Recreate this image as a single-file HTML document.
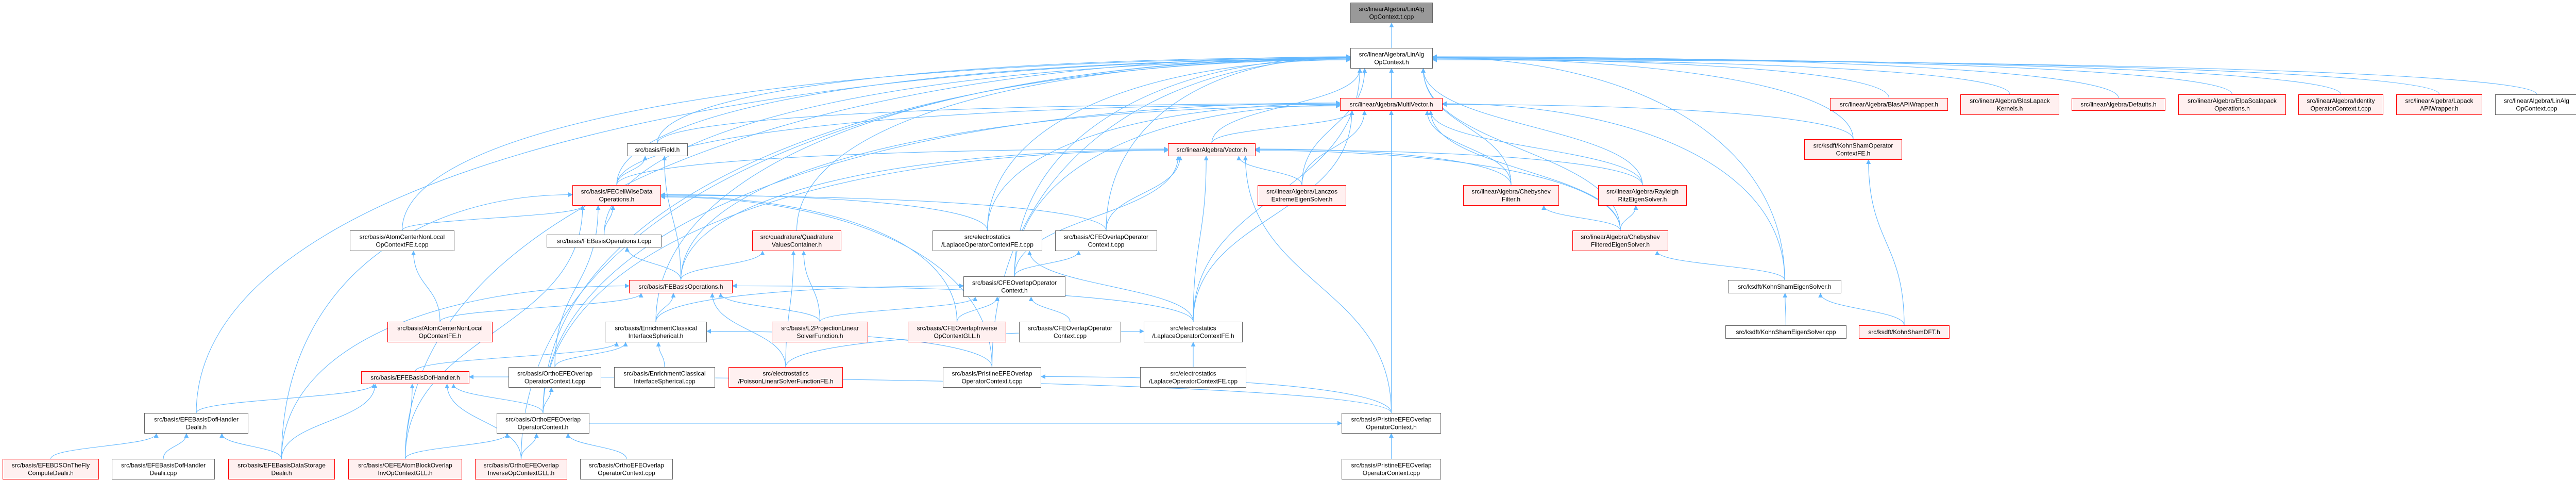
<!DOCTYPE html>
<html><head><meta charset="utf-8">
<style>
html,body{margin:0;padding:0;background:#fff;}
svg{display:block;}
text{font-family:"Liberation Sans",Helvetica,Arial,sans-serif;font-size:12px;fill:#000;}
</style></head>
<body>
<svg id="g" xmlns="http://www.w3.org/2000/svg" width="5008" height="931" viewBox="0 0 5008 931">
<defs>
<marker id="ah" viewBox="0 0 10 10" refX="9" refY="5" markerWidth="9" markerHeight="9" markerUnits="userSpaceOnUse" orient="auto">
<path d="M0,0 L10,5 L0,10 z" fill="#63b8ff"/>
</marker>
</defs>
<g id="edges" fill="none" stroke="#63b8ff" stroke-width="1.1"></g>
<g id="nodes"></g>
</svg>
<script>
var N={
top:[2621,5,2781,45,2,["src/linearAlgebra/LinAlg","OpContext.t.cpp"]],
lao:[2621,93,2781,133,0,["src/linearAlgebra/LinAlg","OpContext.h"]],
mv:[2601,190,2800,215,1,["src/linearAlgebra/MultiVector.h"]],
blasapi:[3552,190,3781,215,1,["src/linearAlgebra/BlasAPIWrapper.h"]],
blk:[3805,183,3997,223,1,["src/linearAlgebra/BlasLapack","Kernels.h"]],
def:[4021,190,4203,215,1,["src/linearAlgebra/Defaults.h"]],
elpa:[4228,183,4437,223,1,["src/linearAlgebra/ElpaScalapack","Operations.h"]],
ident:[4461,183,4626,223,1,["src/linearAlgebra/Identity","OperatorContext.t.cpp"]],
lapack:[4651,183,4818,223,1,["src/linearAlgebra/Lapack","APIWrapper.h"]],
laocpp:[4843,183,5004,223,0,["src/linearAlgebra/LinAlg","OpContext.cpp"]],
field:[1217,278,1335,303,0,["src/basis/Field.h"]],
vec:[2267,278,2437,303,1,["src/linearAlgebra/Vector.h"]],
ksop:[3502,270,3692,310,1,["src/ksdft/KohnShamOperator","ContextFE.h"]],
fecw:[1111,359,1283,399,1,["src/basis/FECellWiseData","Operations.h"]],
lan:[2441,359,2613,399,1,["src/linearAlgebra/Lanczos","ExtremeEigenSolver.h"]],
chf:[2840,359,3026,399,1,["src/linearAlgebra/Chebyshev","Filter.h"]],
rr:[3102,359,3274,399,1,["src/linearAlgebra/Rayleigh","RitzEigenSolver.h"]],
acnt:[679,447,882,487,0,["src/basis/AtomCenterNonLocal","OpContextFE.t.cpp"]],
febt:[1061,455,1284,480,0,["src/basis/FEBasisOperations.t.cpp"]],
qvc:[1460,447,1633,487,1,["src/quadrature/Quadrature","ValuesContainer.h"]],
lapt:[1810,447,2023,487,0,["src/electrostatics","/LaplaceOperatorContextFE.t.cpp"]],
cfet:[2048,447,2246,487,0,["src/basis/CFEOverlapOperator","Context.t.cpp"]],
chfe:[3052,447,3238,487,1,["src/linearAlgebra/Chebyshev","FilteredEigenSolver.h"]],
feb:[1221,543,1422,569,1,["src/basis/FEBasisOperations.h"]],
cfeh:[1870,536,2068,576,0,["src/basis/CFEOverlapOperator","Context.h"]],
kse:[3354,543,3574,569,0,["src/ksdft/KohnShamEigenSolver.h"]],
acnh:[752,624,956,664,1,["src/basis/AtomCenterNonLocal","OpContextFE.h"]],
ecs:[1174,624,1372,664,0,["src/basis/EnrichmentClassical","InterfaceSpherical.h"]],
l2p:[1498,624,1685,664,1,["src/basis/L2ProjectionLinear","SolverFunction.h"]],
cfeinv:[1762,624,1953,664,1,["src/basis/CFEOverlapInverse","OpContextGLL.h"]],
cfecpp:[1978,624,2176,664,0,["src/basis/CFEOverlapOperator","Context.cpp"]],
laph:[2220,624,2412,664,0,["src/electrostatics","/LaplaceOperatorContextFE.h"]],
ksecpp:[3349,631,3584,657,0,["src/ksdft/KohnShamEigenSolver.cpp"]],
ksdft:[3608,631,3784,657,1,["src/ksdft/KohnShamDFT.h"]],
efed:[701,720,911,745,1,["src/basis/EFEBasisDofHandler.h"]],
oet:[987,712,1167,752,0,["src/basis/OrthoEFEOverlap","OperatorContext.t.cpp"]],
ecscpp:[1192,712,1388,752,0,["src/basis/EnrichmentClassical","InterfaceSpherical.cpp"]],
poi:[1414,712,1636,752,1,["src/electrostatics","/PoissonLinearSolverFunctionFE.h"]],
pet:[1830,712,2021,752,0,["src/basis/PristineEFEOverlap","OperatorContext.t.cpp"]],
lapcpp:[2213,712,2419,752,0,["src/electrostatics","/LaplaceOperatorContextFE.cpp"]],
efedd:[280,801,482,841,0,["src/basis/EFEBasisDofHandler","Dealii.h"]],
oeh:[964,801,1144,841,0,["src/basis/OrthoEFEOverlap","OperatorContext.h"]],
peh:[2604,801,2797,841,0,["src/basis/PristineEFEOverlap","OperatorContext.h"]],
b1:[5,890,192,930,1,["src/basis/EFEBDSOnTheFly","ComputeDealii.h"]],
b2:[217,890,417,930,0,["src/basis/EFEBasisDofHandler","Dealii.cpp"]],
b3:[443,890,650,930,1,["src/basis/EFEBasisDataStorage","Dealii.h"]],
b4:[676,890,897,930,1,["src/basis/OEFEAtomBlockOverlap","InvOpContextGLL.h"]],
b5:[922,890,1101,930,1,["src/basis/OrthoEFEOverlap","InverseOpContextGLL.h"]],
b6:[1126,890,1306,930,0,["src/basis/OrthoEFEOverlap","OperatorContext.cpp"]],
pecpp:[2604,890,2797,930,0,["src/basis/PristineEFEOverlap","OperatorContext.cpp"]]
};
var E=[
["lao","top"],
["mv","lao"],["vec","lao"],["field","lao"],["acnt","lao"],["efedd","lao"],["oeh","lao"],["b4","lao"],["b5","lao"],["ecs","lao"],["qvc","lao"],["lapt","lao"],["cfet","lao"],["cfeh","lao"],["laph","lao"],["lan","lao"],["chf","lao"],["rr","lao"],["chfe","lao"],["kse","lao"],["ksop","lao"],["peh","lao"],["pet","lao"],["blasapi","lao"],["blk","lao"],["def","lao"],["elpa","lao"],["ident","lao"],["lapack","lao"],["laocpp","lao"],["fecw","lao"],["febt","lao"],
["vec","mv"],["field","mv"],["fecw","mv"],["lan","mv"],["chf","mv"],["rr","mv"],["chfe","mv"],["kse","mv"],["ksop","mv"],["peh","mv"],["cfeh","mv"],["laph","mv"],["feb","mv"],["oeh","mv"],["lapt","mv"],
["fecw","vec"],["feb","vec"],["cfeh","vec"],["cfet","vec"],["laph","vec"],["lan","vec"],["chf","vec"],["rr","vec"],["chfe","vec"],["peh","vec"],["oeh","vec"],
["fecw","field"],["feb","field"],
["acnt","fecw"],["febt","fecw"],["b4","fecw"],["b3","fecw"],["lapt","fecw"],["cfet","fecw"],["cfeinv","fecw"],["pet","fecw"],["oet","fecw"],
["feb","febt"],["feb","qvc"],
["acnh","acnt"],["acnh","feb"],["ecs","feb"],["l2p","feb"],["poi","feb"],["laph","feb"],["b3","feb"],["l2p","qvc"],["poi","qvc"],
["efed","ecs"],["oet","ecs"],["ecscpp","ecs"],["pet","ecs"],
["efedd","efed"],["b3","efed"],["b4","efed"],["b5","efed"],["oeh","efed"],["peh","efed"],
["b1","efedd"],["b2","efedd"],["b3","efedd"],
["oeh","oet"],["b4","oeh"],["b5","oeh"],["b6","oeh"],
["cfeh","cfet"],["cfeinv","cfeh"],["cfecpp","cfeh"],["l2p","cfeh"],["ecs","cfeh"],
["laph","lapt"],["poi","laph"],["lapcpp","laph"],
["chfe","chf"],["chfe","rr"],["kse","chfe"],["ksecpp","kse"],["ksdft","kse"],["ksdft","ksop"],
["peh","pet"],["pecpp","peh"],["oeh","peh"]
];
var NS="http://www.w3.org/2000/svg";
var eg=document.getElementById("edges"),ng=document.getElementById("nodes");
var sideCount={};
E.forEach(function(e){
 var C=N[e[0]],P=N[e[1]];
 var sx=(C[0]+C[2])/2, sy=C[1];
 var pcx=(P[0]+P[2])/2;
 var d;
 if(Math.abs(pcx-sx)>520 && P[3]<sy-40){
   var left=sx<P[0];
   var key=e[1]+(left?"L":"R");
   sideCount[key]=(sideCount[key]||0)+1;
   var ex=left?P[0]:P[2];
   var ey=(P[1]+P[3])/2+((sideCount[key]%5)-2)*1.5;
   var dx=Math.abs(ex-sx);
   var c2x=left?ex-dx*0.55:ex+dx*0.55;
   d="M"+sx+","+sy+" C"+sx+","+(ey+(sy-ey)*0.35)+" "+c2x+","+ey+" "+ex+","+ey;
 } else {
   var hw=(P[2]-P[0])/2.6;
   var off=(sx-pcx)*0.3; if(off>hw)off=hw; if(off<-hw)off=-hw;
   var ex=pcx+off, ey=P[3];
   if(C[1]<=P[3]){ ey=(P[1]+P[3])/2; ex=sx<pcx?P[0]:P[2]; sy=(C[1]+C[3])/2; sx=sx<pcx?C[2]:C[0];
     d="M"+sx+","+sy+" C"+((sx+ex)/2)+","+sy+" "+((sx+ex)/2)+","+ey+" "+ex+","+ey;
   } else {
   var m=(sy-ey)/2;
   d="M"+sx+","+sy+" C"+sx+","+(sy-m)+" "+ex+","+(ey+m)+" "+ex+","+ey;
   }
 }
 var p=document.createElementNS(NS,"path");
 p.setAttribute("d",d);p.setAttribute("marker-end","url(#ah)");
 eg.appendChild(p);
});
for(var k in N){
 var n=N[k];
 var r=document.createElementNS(NS,"rect");
 r.setAttribute("x",n[0]+0.5);r.setAttribute("y",n[1]+0.5);
 r.setAttribute("width",n[2]-n[0]-1);r.setAttribute("height",n[3]-n[1]-1);
 r.setAttribute("fill",n[4]==1?"#fff0f0":(n[4]==2?"#999999":"#ffffff"));
 r.setAttribute("stroke",n[4]==1?"#ff0000":"#666666");
 r.setAttribute("stroke-width","1");
 ng.appendChild(r);
 var cx=(n[0]+n[2])/2, lines=n[5], h=n[3]-n[1];
 var start=(n[1]+n[3])/2 - (lines.length-1)*7.5 + 4;
 lines.forEach(function(t,i){
  var tx=document.createElementNS(NS,"text");
  tx.setAttribute("x",cx);tx.setAttribute("y",start+i*15);
  tx.setAttribute("text-anchor","middle");
  var w=n[2]-n[0]-16;
  tx.textContent=t;
  ng.appendChild(tx);
  try{ if(tx.getComputedTextLength()>w){tx.setAttribute("textLength",w);tx.setAttribute("lengthAdjust","spacingAndGlyphs");} }catch(err){}
 });
}
</script>
</body></html>
